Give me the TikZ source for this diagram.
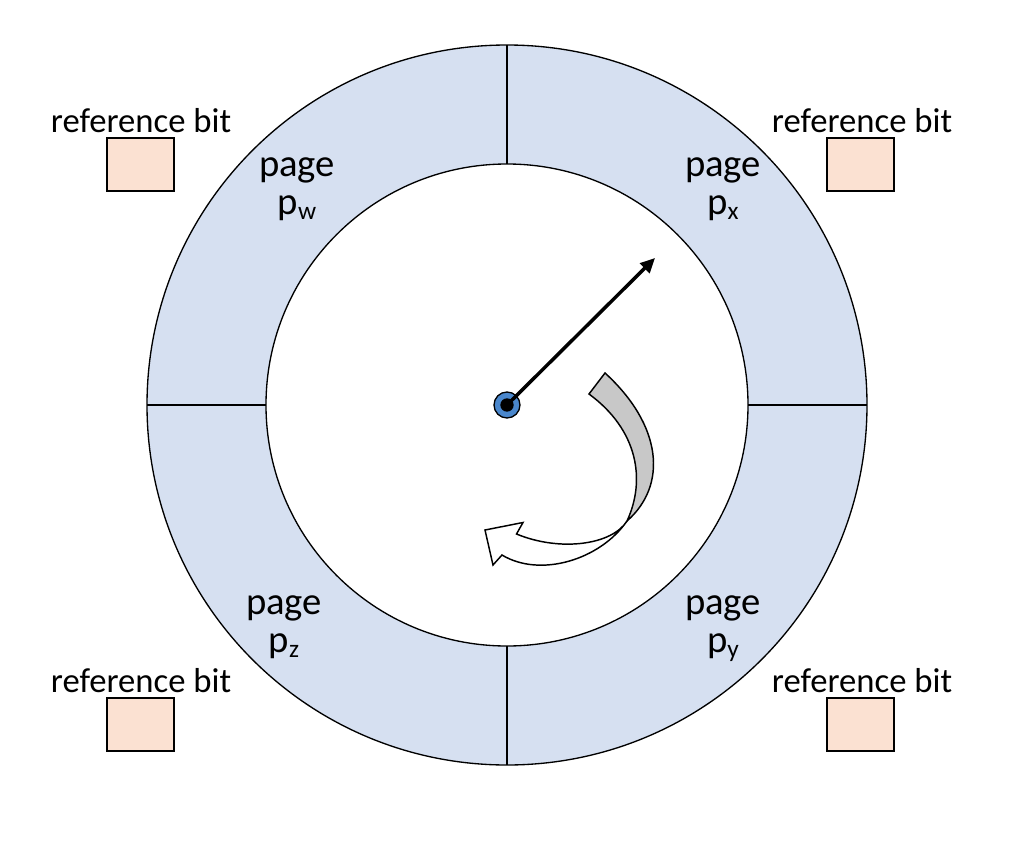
\documentclass[tikz,border=0pt]{standalone}
\usepackage{fontspec}
\setmainfont{Carlito}
\usetikzlibrary{arrows.meta}
\definecolor{ringblue}{HTML}{D6E0F1}
\definecolor{bitfill}{HTML}{FBE1D2}
\definecolor{dotblue}{HTML}{4A87CC}
\definecolor{bandgray}{HTML}{C8C8C8}
\newcommand{\subl}[1]{\raisebox{-4pt}{\fontsize{19}{19}\selectfont #1}}
\tikzset{
  reflabel/.style={anchor=base, font=\fontsize{26}{30}\selectfont, inner sep=0pt},
  pagelabel/.style={anchor=base, align=center, font=\fontsize{29}{28}\selectfont, inner sep=0pt},
  bitbox/.style={draw, fill=bitfill, line width=1pt, minimum width=50.25pt, minimum height=39.75pt, inner sep=0pt},
  ringline/.style={line width=1pt},
}
\begin{document}
\begin{tikzpicture}[x=0.75pt, y=-0.75pt]
\useasboundingbox (0,0) rectangle (1026,850);
\coordinate (c) at (507,405);
% ring
\path[fill=ringblue, draw, ringline, even odd rule] (c) circle[radius=270pt] (c) circle[radius=180.75pt];
% dividers
\coordinate (t1) at (507,45); \coordinate (t2) at (507,164);
\coordinate (b1) at (507,646); \coordinate (b2) at (507,765);
\coordinate (l1) at (147,405); \coordinate (l2) at (266,405);
\coordinate (r1) at (748,405); \coordinate (r2) at (867,405);
\draw[ringline] (t1) -- (t2);
\draw[ringline] (b1) -- (b2);
\draw[ringline] (l1) -- (l2);
\draw[ringline] (r1) -- (r2);
% page labels
\node[pagelabel] (pw) at (297,214) {page\\p\subl{w}};
\node[pagelabel] (px) at (723,214) {page\\p\subl{x}};
\node[pagelabel] (pz) at (284,652) {page\\p\subl{z}};
\node[pagelabel] (py) at (723,652) {page\\p\subl{y}};
% reference bits
\node[reflabel] (lw) at (141,132) {reference bit};
\node[reflabel] (lx) at (862,132) {reference bit};
\node[reflabel] (lz) at (141,692) {reference bit};
\node[reflabel] (ly) at (862,692) {reference bit};
\node[bitbox] (bw) at (140.5,164.5) {};
\node[bitbox] (bx) at (860.5,164.5) {};
\node[bitbox] (bz) at (140.5,724.5) {};
\node[bitbox] (by) at (860.5,724.5) {};
% curved arrow (white part)
\path[draw, fill=white, line width=1.1pt, line join=miter]
  (627,521) .. controls (600,560) and (540,578) .. (502,555)
  -- (493,565) -- (485,530) -- (523,522.5) -- (516.5,534)
  .. controls (560,552) and (612,545) .. (627,521) -- cycle;
% curved arrow (grey part)
\path[draw, fill=bandgray, line width=1.1pt, line join=miter]
  (605,373) .. controls (662,425) and (668,485) .. (627,521)
  .. controls (646,480) and (638,430) .. (589,394) -- cycle;
% hand
\coordinate (tip) at (655,258);
\node[circle, draw, fill=dotblue, line width=1pt, minimum size=19.5pt, inner sep=0pt] (hub) at (c) {};
\node[circle, fill=black, minimum size=10pt, inner sep=0pt] (hubin) at (c) {};
\draw[line width=2.6pt, -{Triangle[length=11pt, width=10pt]}] (hub.center) -- (tip);
\end{tikzpicture}
\end{document}
